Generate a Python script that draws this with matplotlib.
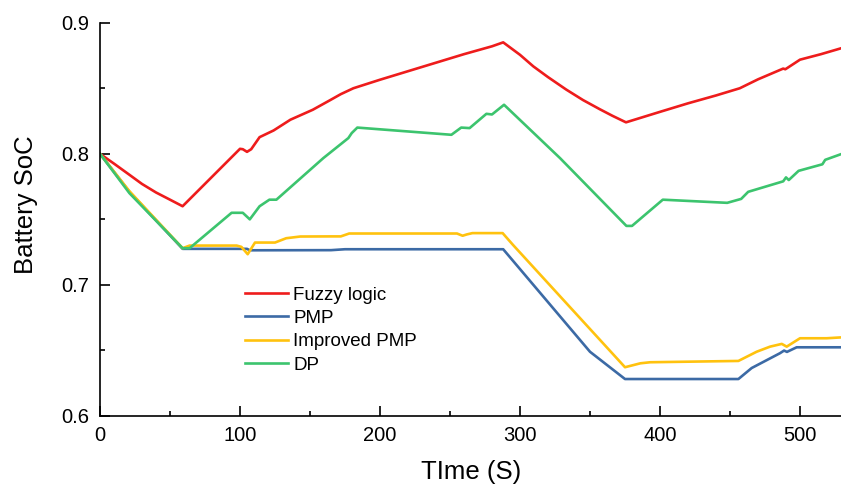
import matplotlib
matplotlib.use("Agg")
import matplotlib.pyplot as plt
from matplotlib.ticker import MultipleLocator, FormatStrFormatter

plt.rcParams['font.family'] = ['Liberation Sans', 'DejaVu Sans']

# ---- data ----
fuzzy_x = [0, 10, 21, 30, 40, 50, 59, 100, 102, 105, 108, 114, 124, 136, 152, 164, 172, 181,
           200, 220, 240, 260, 280, 288, 300, 309.5, 320, 333, 345, 357, 366, 375.7,
           400, 420, 440, 457, 470, 488, 489.5, 491, 500, 515, 530]
fuzzy_y = [0.800, 0.7925, 0.784, 0.777, 0.7705, 0.765, 0.760, 0.8038, 0.8035, 0.8015, 0.8035,
           0.8127, 0.8178, 0.826, 0.8336, 0.8407, 0.8455, 0.850,
           0.8565, 0.863, 0.8695, 0.876, 0.882, 0.885, 0.8755, 0.8667, 0.8585, 0.849, 0.841,
           0.834, 0.829, 0.824,
           0.832, 0.8385, 0.8445, 0.850, 0.8568, 0.865, 0.8645, 0.8655, 0.8718, 0.876, 0.8807]

pmp_x = [0, 21, 59, 105, 107, 165, 175, 288, 350, 375, 456, 465.5, 485.7, 488.6, 490.7, 497.6, 530]
pmp_y = [0.800, 0.771, 0.7275, 0.7275, 0.7264, 0.7265, 0.7272, 0.7272, 0.649, 0.6282, 0.6282,
         0.6366, 0.6479, 0.6499, 0.6489, 0.6524, 0.6524]

ipmp_x = [0, 21, 59, 64, 97.6, 101, 105.5, 110.7, 125, 133, 143, 165, 172, 178, 255, 259, 262,
          266, 287.6, 295, 375, 386, 393, 456, 469, 478.6, 487, 490.5, 500, 519, 530]
ipmp_y = [0.800, 0.7715, 0.728, 0.730, 0.730, 0.729, 0.7234, 0.7323, 0.7323, 0.7356, 0.7369,
          0.737, 0.737, 0.7392, 0.7392, 0.7375, 0.7385, 0.7395, 0.7395, 0.7305, 0.6372, 0.6402,
          0.641, 0.642, 0.649, 0.6529, 0.655, 0.6529, 0.6593, 0.6593, 0.660]

dp_x = [0, 21, 59, 64, 94, 102, 107, 114, 121, 126, 159.5, 177.4, 179.8, 183.8, 251, 258, 264,
        276, 280, 288.6, 328.6, 376, 380, 402, 448, 458, 463, 488, 490, 492, 499, 516, 518, 530]
dp_y = [0.800, 0.770, 0.728, 0.728, 0.755, 0.755, 0.750, 0.760, 0.765, 0.765, 0.7967, 0.812,
        0.8158, 0.820, 0.8145, 0.820, 0.8196, 0.8305, 0.830, 0.8374, 0.7967, 0.745, 0.745,
        0.765, 0.7626, 0.7656, 0.771, 0.779, 0.782, 0.780, 0.787, 0.792, 0.7954, 0.800]

labels = ["Fuzzy logic", "PMP", "Improved PMP", "DP"]
colors = ["#ee1c1c", "#3c6aa5", "#ffc20e", "#3cc46e"]

# ---- figure ----
fig = plt.figure(figsize=(8.41, 4.88), dpi=100)
ax = fig.add_axes([100/841, 72/488, 742/841, 393.3/488])

series = [(fuzzy_x, fuzzy_y), (pmp_x, pmp_y), (ipmp_x, ipmp_y), (dp_x, dp_y)]
for (xs, ys), lab, c in zip(series, labels, colors):
    ax.plot(xs, ys, color=c, lw=1.9, label=lab, solid_joinstyle='round')

ax.set_xlim(0, 530)
ax.set_ylim(0.6, 0.9)
ax.xaxis.set_major_locator(MultipleLocator(100))
ax.xaxis.set_minor_locator(MultipleLocator(50))
ax.yaxis.set_major_locator(MultipleLocator(0.1))
ax.yaxis.set_minor_locator(MultipleLocator(0.05))
ax.yaxis.set_major_formatter(FormatStrFormatter('%.1f'))

for s in ['top', 'right']:
    ax.spines[s].set_visible(False)
for s in ['left', 'bottom']:
    ax.spines[s].set_linewidth(1.2)

ax.tick_params(which='major', direction='in', length=7, width=1.2, labelsize=14.5)
ax.tick_params(which='minor', direction='in', length=3.5, width=1.2)
ax.tick_params(axis='y', which='major', pad=8)
ax.tick_params(axis='x', which='major', pad=7)

ax.set_xlabel("TIme (S)", fontsize=18.5)
ax.set_ylabel("Battery SoC", fontsize=18.5)
ax.xaxis.set_label_coords(0.5, -0.112)
ax.yaxis.set_label_coords(-0.083, 0.538)

ax.legend(loc='upper left', bbox_to_anchor=(0.1954, 0.329), frameon=False,
          fontsize=13.5, handlelength=2.3, handletextpad=0.28, labelspacing=0.33,
          borderpad=0, borderaxespad=0)

fig.savefig("out.png", dpi=100)
